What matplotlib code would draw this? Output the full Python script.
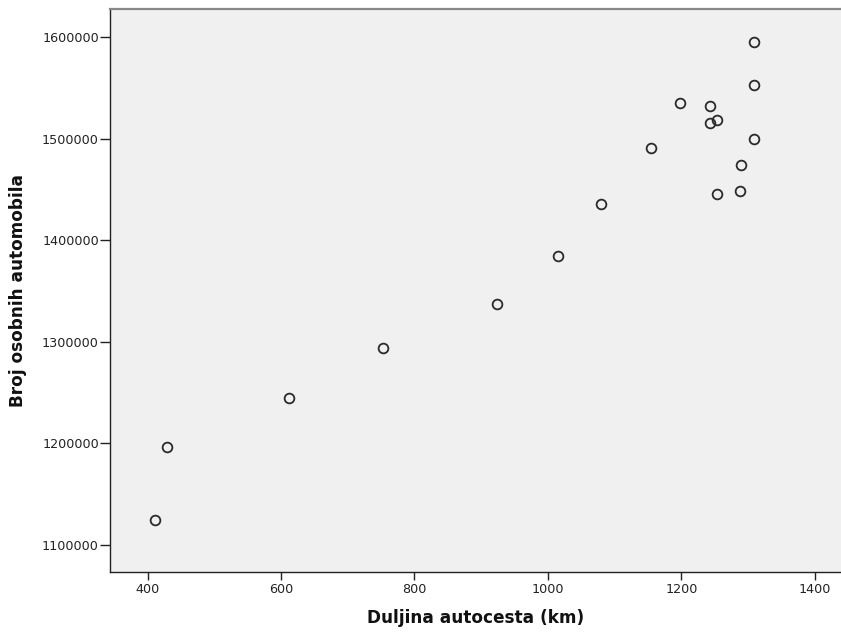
import matplotlib
matplotlib.use("Agg")
import matplotlib.pyplot as plt

# Data
duljina_km = [410.5, 428.5, 611.7, 752.5, 923.3, 1014.7, 1079.0, 1155.0, 1198.5,
              1242.4, 1253.3, 1242.4, 1308.8, 1308.8, 1308.8, 1288.8, 1288.4, 1252.9]
broj_automobila = [1125100, 1196100, 1244300, 1293600, 1337500, 1384800, 1436100,
                   1491200, 1535000, 1532300, 1518500, 1515300, 1595700, 1552700,
                   1499800, 1474500, 1448600, 1445300]
x_ticks = [400, 600, 800, 1000, 1200, 1400]
y_ticks = [1100000, 1200000, 1300000, 1400000, 1500000, 1600000]
x_label = "Duljina autocesta (km)"
y_label = "Broj osobnih automobila"

fig = plt.figure(figsize=(8.41, 6.33), dpi=100)
ax = fig.add_axes([110/841, 61/633, 731/841, 563/633])
ax.set_facecolor("#F0F0F0")

ax.plot(duljina_km, broj_automobila, linestyle="none", marker="o",
        markersize=7.0, markerfacecolor="none", markeredgecolor="#2a2a2a",
        markeredgewidth=1.3)

ax.set_xlim(343.5, 1439.4)
ax.set_ylim(1073400, 1627900)
ax.set_xticks(x_ticks)
ax.set_xticklabels([str(v) for v in x_ticks])
ax.set_yticks(y_ticks)
ax.set_yticklabels([str(v) for v in y_ticks])

ax.tick_params(axis="y", length=7, width=1.0, pad=1, labelsize=9.2, colors="#222222")
ax.tick_params(axis="x", length=5.5, width=1.0, pad=2.5, labelsize=9.2, colors="#222222")

for s in ("left", "bottom"):
    ax.spines[s].set_color("#222222")
    ax.spines[s].set_linewidth(1.0)
ax.spines["top"].set_color("#888888")
ax.spines["top"].set_linewidth(1.6)
ax.spines["right"].set_visible(False)

ax.set_xlabel(x_label, fontsize=12.2, fontweight="bold", color="#111111")
ax.set_ylabel(y_label, fontsize=12.2, fontweight="bold", color="#111111")
ax.xaxis.set_label_coords(0.5, -(618 - 572) / 563)
ax.xaxis.label.set_va("center")
ax.yaxis.set_label_coords((18 - 110) / 731, 0.5)
ax.yaxis.label.set_va("center")

fig.savefig("out.png", dpi=100)
